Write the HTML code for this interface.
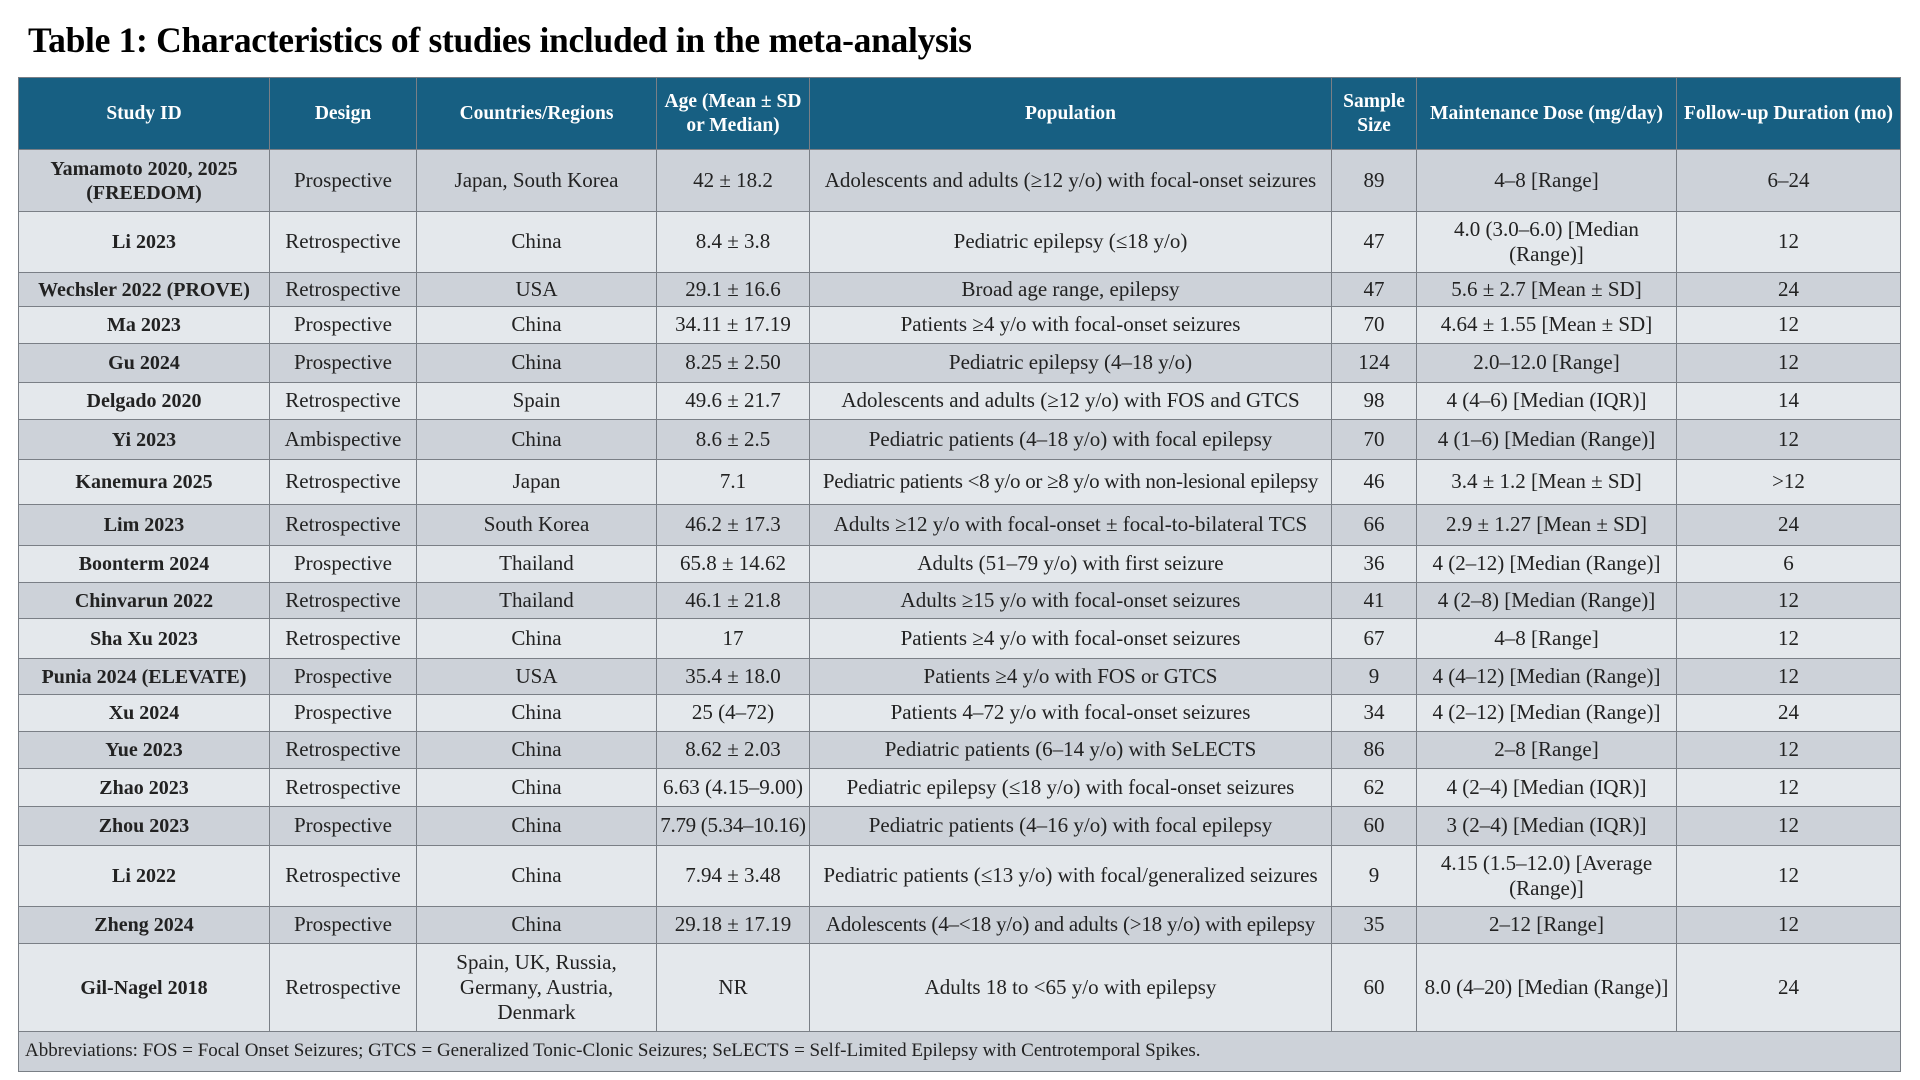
<!DOCTYPE html>
<html><head><meta charset="utf-8"><style>
html,body{margin:0;padding:0;background:#fff;width:1920px;height:1080px;overflow:hidden}
body{position:relative;font-family:"Liberation Serif",serif}
h1{position:absolute;left:28px;top:19px;margin:0;font-size:35.5px;font-weight:bold;color:#000;letter-spacing:-0.3px}
table{position:absolute;left:18px;top:77px;width:1882px;border-collapse:collapse;table-layout:fixed;font-size:21px;color:#222}
td,th{border:1px solid #7a7f86;text-align:center;vertical-align:middle;padding:0 3px;line-height:1.2}
th{background:#175f82;color:#fff;font-weight:bold;font-size:19.5px}
tr:nth-child(odd) td{background:#cdd2d9}
tr:nth-child(even) td{background:#e4e8ec}
td:first-child{font-weight:bold;font-size:20px}
td.foot{text-align:left;font-weight:normal;font-size:19px;background:#cdd2d9!important;padding-left:6px}
</style></head><body>
<h1>Table 1: Characteristics of studies included in the meta-analysis</h1>
<table>
<colgroup><col style="width:251px"><col style="width:147px"><col style="width:240px"><col style="width:153px"><col style="width:522px"><col style="width:85px"><col style="width:260px"><col style="width:224px"></colgroup>
<thead><tr style="height:72px"><th>Study ID</th><th>Design</th><th>Countries/Regions</th><th>Age (Mean ± SD or Median)</th><th>Population</th><th>Sample Size</th><th>Maintenance Dose (mg/day)</th><th>Follow-up Duration (mo)</th></tr></thead>
<tbody>
<tr style="height:62px"><td>Yamamoto 2020, 2025<br>(FREEDOM)</td><td>Prospective</td><td>Japan, South Korea</td><td>42 ± 18.2</td><td>Adolescents and adults (≥12 y/o) with focal-onset seizures</td><td>89</td><td>4–8 [Range]</td><td>6–24</td></tr>
<tr style="height:61px"><td>Li 2023</td><td>Retrospective</td><td>China</td><td>8.4 ± 3.8</td><td>Pediatric epilepsy (≤18 y/o)</td><td>47</td><td>4.0 (3.0–6.0) [Median<br>(Range)]</td><td>12</td></tr>
<tr style="height:34px"><td>Wechsler 2022 (PROVE)</td><td>Retrospective</td><td>USA</td><td>29.1 ± 16.6</td><td>Broad age range, epilepsy</td><td>47</td><td>5.6 ± 2.7 [Mean ± SD]</td><td>24</td></tr>
<tr style="height:37px"><td>Ma 2023</td><td>Prospective</td><td>China</td><td>34.11 ± 17.19</td><td>Patients ≥4 y/o with focal-onset seizures</td><td>70</td><td>4.64 ± 1.55 [Mean ± SD]</td><td>12</td></tr>
<tr style="height:39px"><td>Gu 2024</td><td>Prospective</td><td>China</td><td>8.25 ± 2.50</td><td>Pediatric epilepsy (4–18 y/o)</td><td>124</td><td>2.0–12.0 [Range]</td><td>12</td></tr>
<tr style="height:37px"><td>Delgado 2020</td><td>Retrospective</td><td>Spain</td><td>49.6 ± 21.7</td><td>Adolescents and adults (≥12 y/o) with FOS and GTCS</td><td>98</td><td>4 (4–6) [Median (IQR)]</td><td>14</td></tr>
<tr style="height:40px"><td>Yi 2023</td><td>Ambispective</td><td>China</td><td>8.6 ± 2.5</td><td>Pediatric patients (4–18 y/o) with focal epilepsy</td><td>70</td><td>4 (1–6) [Median (Range)]</td><td>12</td></tr>
<tr style="height:45px"><td>Kanemura 2025</td><td>Retrospective</td><td>Japan</td><td>7.1</td><td style="white-space:nowrap;padding:0;letter-spacing:-0.3px">Pediatric patients &lt;8 y/o or ≥8 y/o with non-lesional epilepsy</td><td>46</td><td>3.4 ± 1.2 [Mean ± SD]</td><td>&gt;12</td></tr>
<tr style="height:41px"><td>Lim 2023</td><td>Retrospective</td><td>South Korea</td><td>46.2 ± 17.3</td><td style="white-space:nowrap;padding:0">Adults ≥12 y/o with focal-onset ± focal-to-bilateral TCS</td><td>66</td><td>2.9 ± 1.27 [Mean ± SD]</td><td>24</td></tr>
<tr style="height:37px"><td>Boonterm 2024</td><td>Prospective</td><td>Thailand</td><td>65.8 ± 14.62</td><td>Adults (51–79 y/o) with first seizure</td><td>36</td><td>4 (2–12) [Median (Range)]</td><td>6</td></tr>
<tr style="height:36px"><td>Chinvarun 2022</td><td>Retrospective</td><td>Thailand</td><td>46.1 ± 21.8</td><td>Adults ≥15 y/o with focal-onset seizures</td><td>41</td><td>4 (2–8) [Median (Range)]</td><td>12</td></tr>
<tr style="height:40px"><td>Sha Xu 2023</td><td>Retrospective</td><td>China</td><td>17</td><td>Patients ≥4 y/o with focal-onset seizures</td><td>67</td><td>4–8 [Range]</td><td>12</td></tr>
<tr style="height:36px"><td>Punia 2024 (ELEVATE)</td><td>Prospective</td><td>USA</td><td>35.4 ± 18.0</td><td>Patients ≥4 y/o with FOS or GTCS</td><td>9</td><td>4 (4–12) [Median (Range)]</td><td>12</td></tr>
<tr style="height:37px"><td>Xu 2024</td><td>Prospective</td><td>China</td><td>25 (4–72)</td><td>Patients 4–72 y/o with focal-onset seizures</td><td>34</td><td>4 (2–12) [Median (Range)]</td><td>24</td></tr>
<tr style="height:37px"><td>Yue 2023</td><td>Retrospective</td><td>China</td><td>8.62 ± 2.03</td><td>Pediatric patients (6–14 y/o) with SeLECTS</td><td>86</td><td>2–8 [Range]</td><td>12</td></tr>
<tr style="height:38px"><td>Zhao 2023</td><td>Retrospective</td><td>China</td><td>6.63 (4.15–9.00)</td><td>Pediatric epilepsy (≤18 y/o) with focal-onset seizures</td><td>62</td><td>4 (2–4) [Median (IQR)]</td><td>12</td></tr>
<tr style="height:39px"><td>Zhou 2023</td><td>Prospective</td><td>China</td><td style="white-space:nowrap;padding:0;letter-spacing:-0.3px">7.79 (5.34–10.16)</td><td>Pediatric patients (4–16 y/o) with focal epilepsy</td><td>60</td><td>3 (2–4) [Median (IQR)]</td><td>12</td></tr>
<tr style="height:61px"><td>Li 2022</td><td>Retrospective</td><td>China</td><td>7.94 ± 3.48</td><td>Pediatric patients (≤13 y/o) with focal/generalized seizures</td><td>9</td><td>4.15 (1.5–12.0) [Average<br>(Range)]</td><td>12</td></tr>
<tr style="height:37px"><td>Zheng 2024</td><td>Prospective</td><td>China</td><td>29.18 ± 17.19</td><td style="white-space:nowrap;padding:0;letter-spacing:-0.2px">Adolescents (4–&lt;18 y/o) and adults (&gt;18 y/o) with epilepsy</td><td>35</td><td>2–12 [Range]</td><td>12</td></tr>
<tr style="height:88px"><td>Gil-Nagel 2018</td><td>Retrospective</td><td>Spain, UK, Russia,<br>Germany, Austria,<br>Denmark</td><td>NR</td><td>Adults 18 to &lt;65 y/o with epilepsy</td><td>60</td><td style="white-space:nowrap;padding:0">8.0 (4–20) [Median (Range)]</td><td>24</td></tr>
<tr style="height:40px"><td class="foot" colspan="8">Abbreviations: FOS = Focal Onset Seizures; GTCS = Generalized Tonic-Clonic Seizures; SeLECTS = Self-Limited Epilepsy with Centrotemporal Spikes.</td></tr>
</tbody></table>
</body></html>
